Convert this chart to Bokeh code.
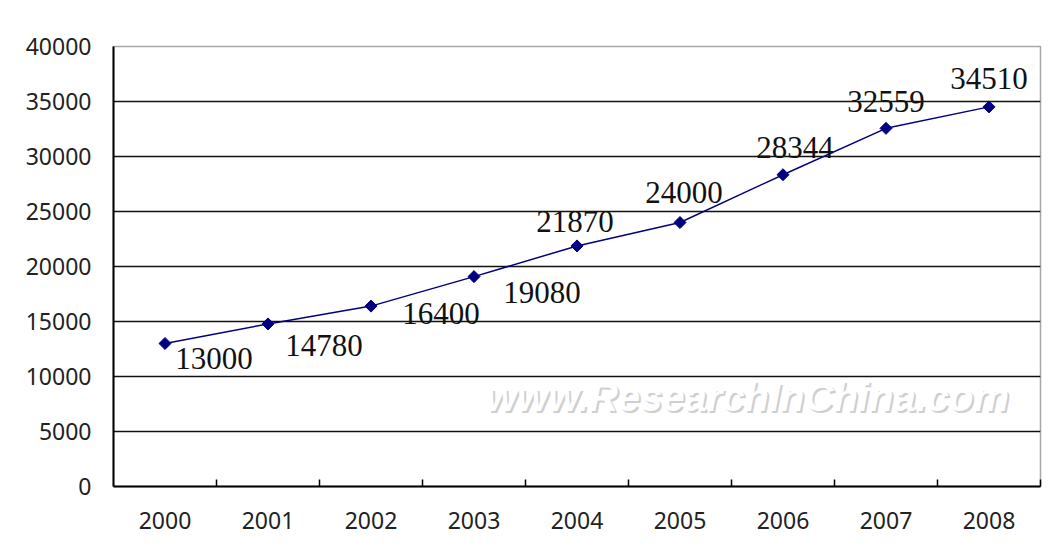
import numpy as np
from bokeh.plotting import figure
from bokeh.models import ColumnDataSource, FixedTicker, Range1d
from bokeh.core.properties import value
from bokeh.embed import file_html
from bokeh.resources import INLINE

# ---- data ----
years = ["2000", "2001", "2002", "2003", "2004", "2005", "2006", "2007", "2008"]
values = [13000, 14780, 16400, 19080, 21870, 24000, 28344, 32559, 34510]
y_ticks = [0, 5000, 10000, 15000, 20000, 25000, 30000, 35000, 40000]
watermark = "www.ResearchInChina.com"

# ---- label placement (pixel offsets from each point) ----
label_dx = [49, 56, 70, 68, -2, 4, 12, 0, 0]
label_dy = [15, 22, 7, 16, -24, -30, -27, -27, -28]

xs = [i + 0.5 for i in range(len(years))]
src = ColumnDataSource(dict(x=xs, y=values, lab=[str(v) for v in values],
                            dx=label_dx, dy=label_dy))

p = figure(frame_width=927, frame_height=440, output_backend="svg",
           toolbar_location=None, x_range=Range1d(0, len(years)),
           y_range=Range1d(0, 40000))
p.min_border_left = 113
p.min_border_top = 46
p.min_border_right = 8
p.min_border_bottom = 57
p.background_fill_color = "white"
p.border_fill_color = "white"
p.outline_line_color = "#a8a8a8"
p.outline_line_width = 1.5

# watermark
wm_x = 6.155
wm_y = 8180
p.text(x=[wm_x], y=[wm_y], text=[watermark], x_offset=2, y_offset=2,
       text_font=value("Liberation Sans"), text_font_style="bold italic",
       text_font_size="40px", text_color="#cfcfcf", text_align="center",
       text_baseline="middle")
p.text(x=[wm_x], y=[wm_y], text=[watermark],
       text_font=value("Liberation Sans"), text_font_style="bold italic",
       text_font_size="40px", text_color="white", text_align="center",
       text_baseline="middle")

# x axis
p.xaxis.ticker = FixedTicker(ticks=xs, minor_ticks=list(range(1, len(years) + 1)))
p.xaxis.major_label_overrides = {x: y for x, y in zip(xs, years)}
p.xaxis.major_tick_in = 0
p.xaxis.major_tick_out = 0
p.xaxis.minor_tick_in = 7
p.xaxis.minor_tick_out = 0
p.xaxis.minor_tick_line_color = "black"
p.xaxis.minor_tick_line_width = 1.5
p.xaxis.axis_line_color = "black"
p.xaxis.axis_line_width = 2
p.xaxis.major_label_standoff = 25
p.xaxis.major_label_text_font = "Noto Sans"
p.xaxis.major_label_text_font_size = "23px"
p.xaxis.major_label_text_color = "#222222"

# y axis
p.yaxis.ticker = FixedTicker(ticks=y_ticks)
p.yaxis.major_label_overrides = {t: str(t) for t in y_ticks}
p.yaxis.major_tick_in = 0
p.yaxis.major_tick_out = 0
p.yaxis.minor_tick_line_color = None
p.yaxis.axis_line_color = "black"
p.yaxis.axis_line_width = 2
p.yaxis.major_label_standoff = 22
p.yaxis.major_label_text_font = "Noto Sans"
p.yaxis.major_label_text_font_size = "23px"
p.yaxis.major_label_text_color = "#222222"

# grid
p.xgrid.grid_line_color = None
p.ygrid.ticker = FixedTicker(ticks=y_ticks[1:-1])
p.ygrid.grid_line_color = "#111111"
p.ygrid.grid_line_width = 1.5

# series
p.line("x", "y", source=src, line_color="#000080", line_width=1.5)
p.scatter("x", "y", source=src, marker="square", size=8.5, angle=np.pi / 4,
          fill_color="#000080", line_color="#000080")
p.text("x", "y", text="lab", source=src, x_offset="dx", y_offset="dy",
       text_font=value("Liberation Serif"), text_font_size="31px",
       text_color="#111111", text_align="center", text_baseline="middle")

open("out.html", "w").write(file_html(p, INLINE))
